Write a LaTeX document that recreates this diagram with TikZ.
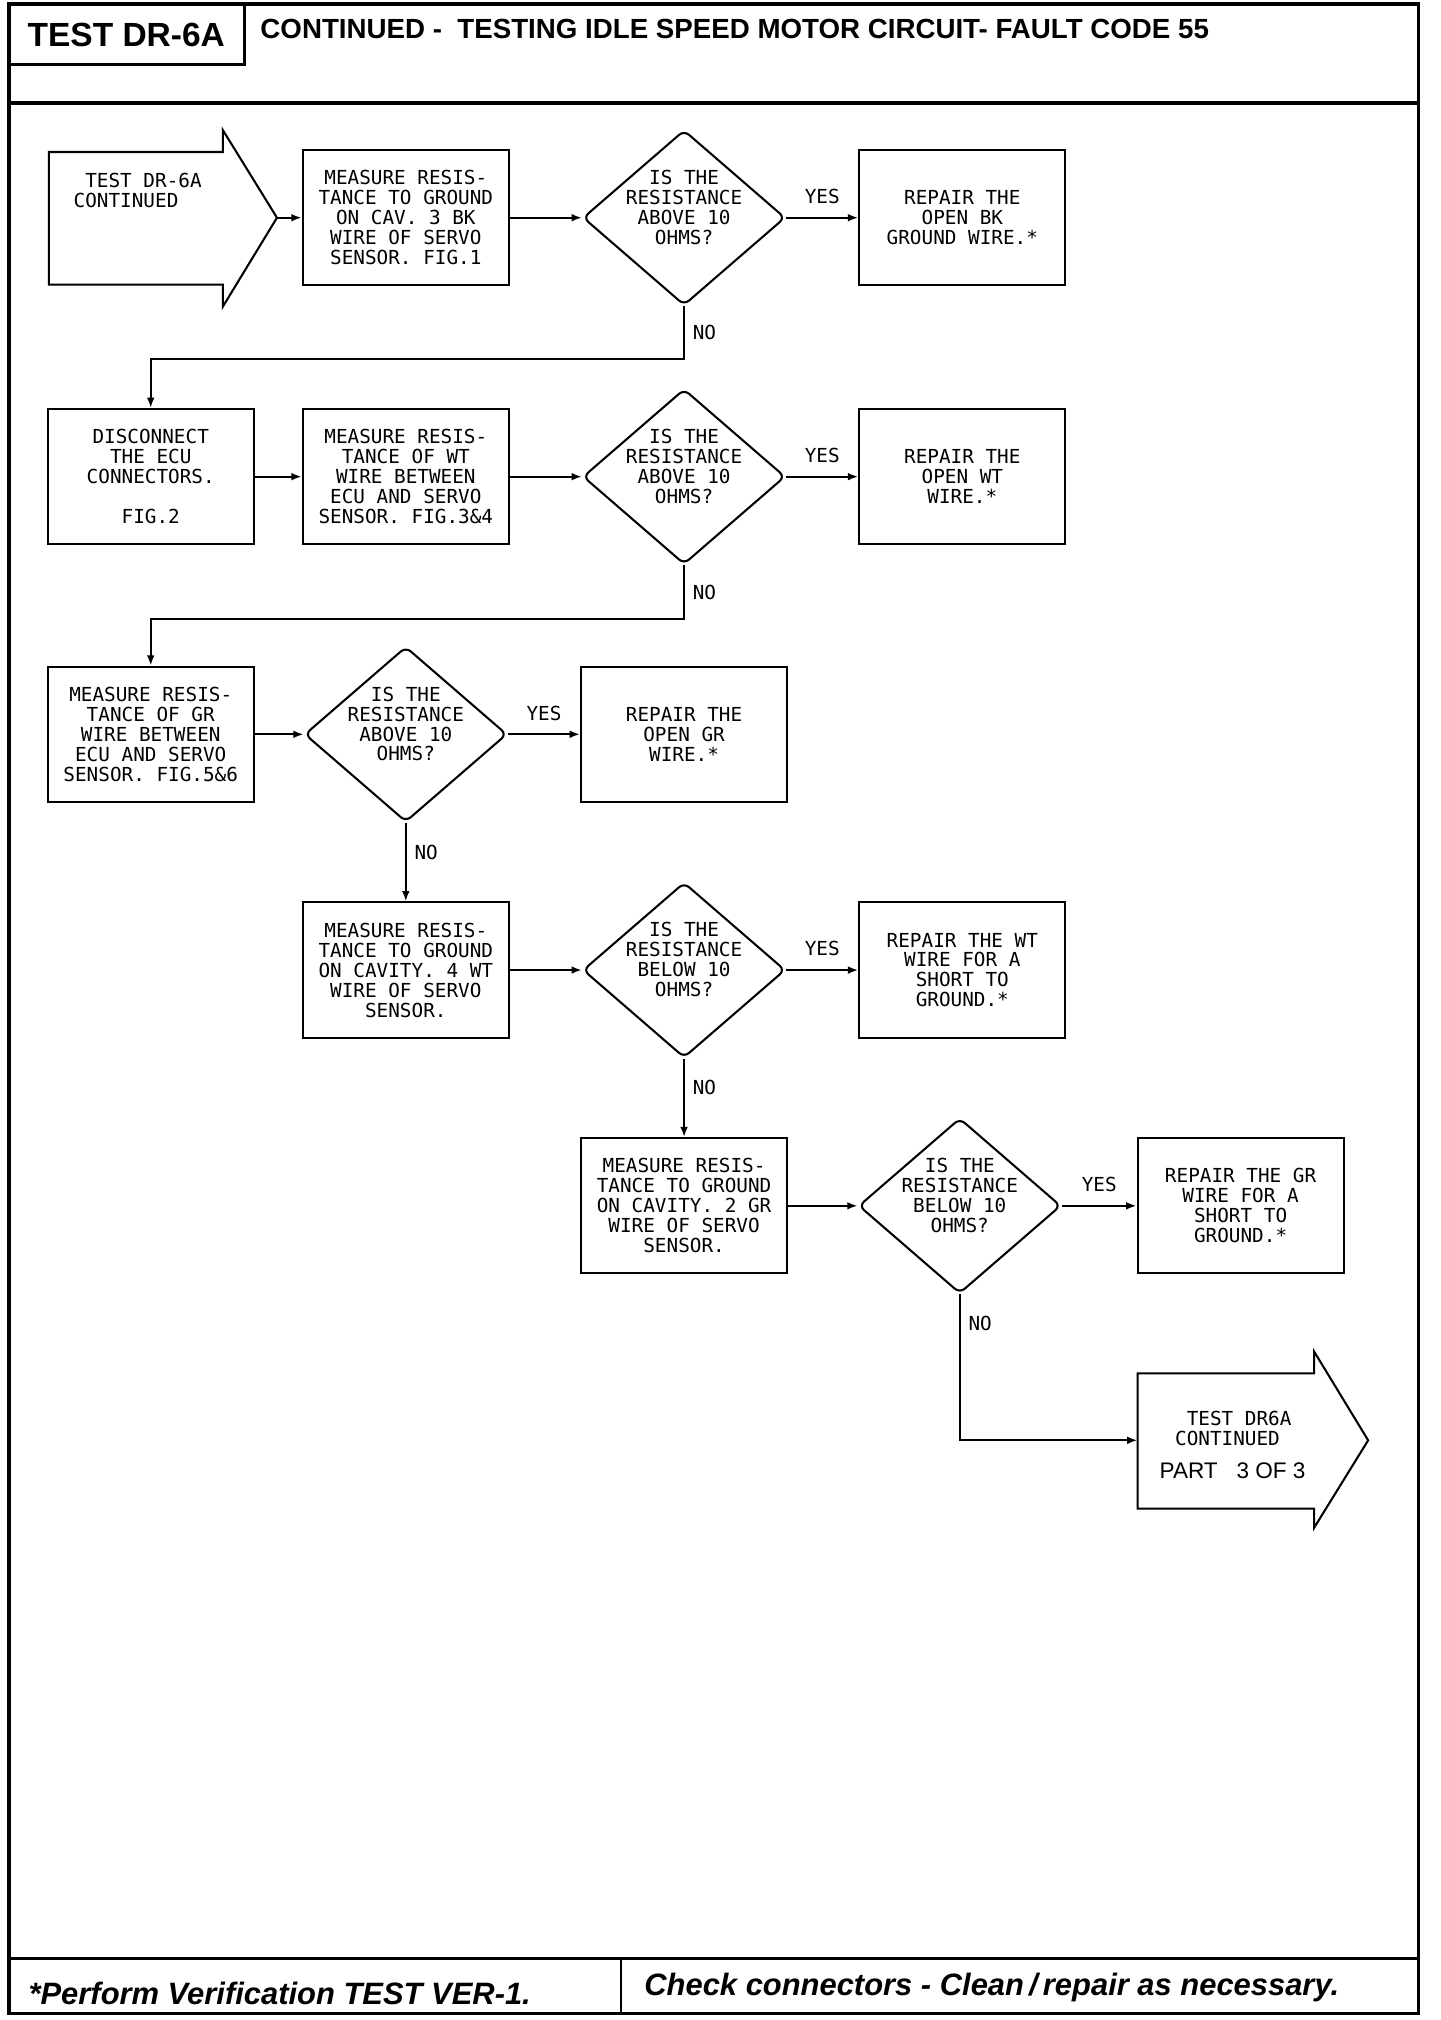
\documentclass[tikz,border=0pt]{standalone}
\usepackage{fontspec}
\setmainfont{Liberation Sans}
\newfontfamily\plotfont{DejaVu Sans Mono}
\usetikzlibrary{shapes.geometric,arrows.meta,calc}
\begin{document}
\begin{tikzpicture}[x=1pt,y=-1pt,
  every node/.style={inner sep=0pt},
  ptxt/.style={font=\plotfont\fontsize{15}{15.5}\selectfont, align=center},
  pbox/.style={ptxt, draw, line width=1.6pt, minimum width=160pt, minimum height=105pt},
  dia/.style={draw, diamond, line width=1.6pt, minimum width=157pt, minimum height=136pt, rounded corners=5pt},
  conn/.style={line width=1.6pt, -{Latex[length=8pt,width=6pt]}},
  lbl/.style={font=\plotfont\fontsize{15}{15.5}\selectfont},
  frame/.style={line width=2.6pt},
  shp/.style={line width=1.6pt}
]
\useasboundingbox (0,0) rectangle (1118,1568);

% frame, header, footer
\draw[frame] (7,3) rectangle (1101,1563);
\draw[frame] (7,50) -| (190,3);
\draw[frame] (7,80) -- (1101,80);
\draw[frame] (7,1520) -- (1101,1520);
\draw[shp] (482,1520) -- (482,1563);
\node[font=\bfseries\fontsize{26}{26}\selectfont] (hdr) at (98,27) {TEST DR-6A};
\node[font=\bfseries\fontsize{21.5}{21.5}\selectfont, anchor=base west] (ttl) at (202,30) {CONTINUED -\ \ TESTING IDLE SPEED MOTOR CIRCUIT- FAULT CODE 55};
\node[font=\bfseries\itshape\fontsize{24}{24}\selectfont, anchor=base west] (f1) at (22,1556) {*Perform Verification TEST VER-1.};
\node[font=\bfseries\itshape\fontsize{24}{24}\selectfont, anchor=base west] (f2) at (500,1549) {Check connectors - Clean\,/\,repair as necessary.};

% start arrow
\draw[shp] (38,118) -- (173,118) -- (173,101) -- (215,169) -- (173,238) -- (173,221) -- (38,221) -- cycle;
\coordinate (stip) at (215,169);
\node[ptxt, align=left, anchor=north west] (stxt) at (57,134) {\hphantom{C}TEST DR-6A\\CONTINUED};

% row 1
\node[pbox] (b1) at (315,169) {MEASURE RESIS-\\TANCE TO GROUND\\ON CAV. 3 BK\\WIRE OF SERVO\\SENSOR. FIG.1};
\node[dia] (d1) at (531,169) {};
\node[ptxt] (d1t) at ([yshift=8pt]d1.center) {IS THE\\RESISTANCE\\ABOVE 10\\OHMS?};
\node[pbox] (r1) at (747,169) {REPAIR THE\\OPEN BK\\GROUND WIRE.*};

% row 2
\node[pbox] (b2) at (117,370) {DISCONNECT\\THE ECU\\CONNECTORS.\\[15.5pt]FIG.2};
\node[pbox] (b3) at (315,370) {MEASURE RESIS-\\TANCE OF WT\\WIRE BETWEEN\\ECU AND SERVO\\SENSOR. FIG.3\&4};
\node[dia] (d2) at (531,370) {};
\node[ptxt] (d2t) at ([yshift=8pt]d2.center) {IS THE\\RESISTANCE\\ABOVE 10\\OHMS?};
\node[pbox] (r2) at (747,370) {REPAIR THE\\OPEN WT\\WIRE.*};

% row 3
\node[pbox] (b4) at (117,570) {MEASURE RESIS-\\TANCE OF GR\\WIRE BETWEEN\\ECU AND SERVO\\SENSOR. FIG.5\&6};
\node[dia] (d3) at (315,570) {};
\node[ptxt] (d3t) at ([yshift=8pt]d3.center) {IS THE\\RESISTANCE\\ABOVE 10\\OHMS?};
\node[pbox] (r3) at (531,570) {REPAIR THE\\OPEN GR\\WIRE.*};

% row 4
\node[pbox] (b5) at (315,753) {MEASURE RESIS-\\TANCE TO GROUND\\ON CAVITY. 4 WT\\WIRE OF SERVO\\SENSOR.};
\node[dia] (d4) at (531,753) {};
\node[ptxt] (d4t) at ([yshift=8pt]d4.center) {IS THE\\RESISTANCE\\BELOW 10\\OHMS?};
\node[pbox] (r4) at (747,753) {REPAIR THE WT\\WIRE FOR A\\SHORT TO\\GROUND.*};

% row 5
\node[pbox] (b6) at (531,936) {MEASURE RESIS-\\TANCE TO GROUND\\ON CAVITY. 2 GR\\WIRE OF SERVO\\SENSOR.};
\node[dia] (d5) at (745,936) {};
\node[ptxt] (d5t) at ([yshift=8pt]d5.center) {IS THE\\RESISTANCE\\BELOW 10\\OHMS?};
\node[pbox] (r5) at (963,936) {REPAIR THE GR\\WIRE FOR A\\SHORT TO\\GROUND.*};

% end arrow
\draw[shp] (883,1066) -- (1020,1066) -- (1020,1049) -- (1062,1118) -- (1020,1186) -- (1020,1171) -- (883,1171) -- cycle;
\coordinate (eleft) at (883,1118);
\node[ptxt, align=left, anchor=north west] (etxt) at (912,1095) {\hphantom{C}TEST DR6A\\CONTINUED};
\node[font=\fontsize{17.5}{17.5}\selectfont, anchor=base west] (epart) at (900,1148) {PART\ \ \ 3 OF 3};

% connectors
\draw[conn] (stip) -- (b1.west);
\draw[conn] (b1.east) -- (d1.west);
\draw[conn] (d1.east) -- node[lbl, above=10pt] (y1) {YES} (r1.west);
\draw[conn] (d1.south) -- node[lbl, right=6pt] (n1) {NO} ++(0,41) -| (b2.north);

\draw[conn] (b2.east) -- (b3.west);
\draw[conn] (b3.east) -- (d2.west);
\draw[conn] (d2.east) -- node[lbl, above=10pt] (y2) {YES} (r2.west);
\draw[conn] (d2.south) -- node[lbl, right=6pt] (n2) {NO} ++(0,42) -| (b4.north);

\draw[conn] (b4.east) -- (d3.west);
\draw[conn] (d3.east) -- node[lbl, above=10pt] (y3) {YES} (r3.west);
\draw[conn] (d3.south) -- node[lbl, right=6pt, pos=0.37] (n3) {NO} (b5.north);

\draw[conn] (b5.east) -- (d4.west);
\draw[conn] (d4.east) -- node[lbl, above=10pt] (y4) {YES} (r4.west);
\draw[conn] (d4.south) -- node[lbl, right=6pt, pos=0.37] (n4) {NO} (b6.north);

\draw[conn] (b6.east) -- (d5.west);
\draw[conn] (d5.east) -- node[lbl, above=10pt] (y5) {YES} (r5.west);
\draw[conn] (d5.south) |- node[lbl, right=6pt, pos=0.1] (n5) {NO} (eleft);
\end{tikzpicture}
\end{document}
